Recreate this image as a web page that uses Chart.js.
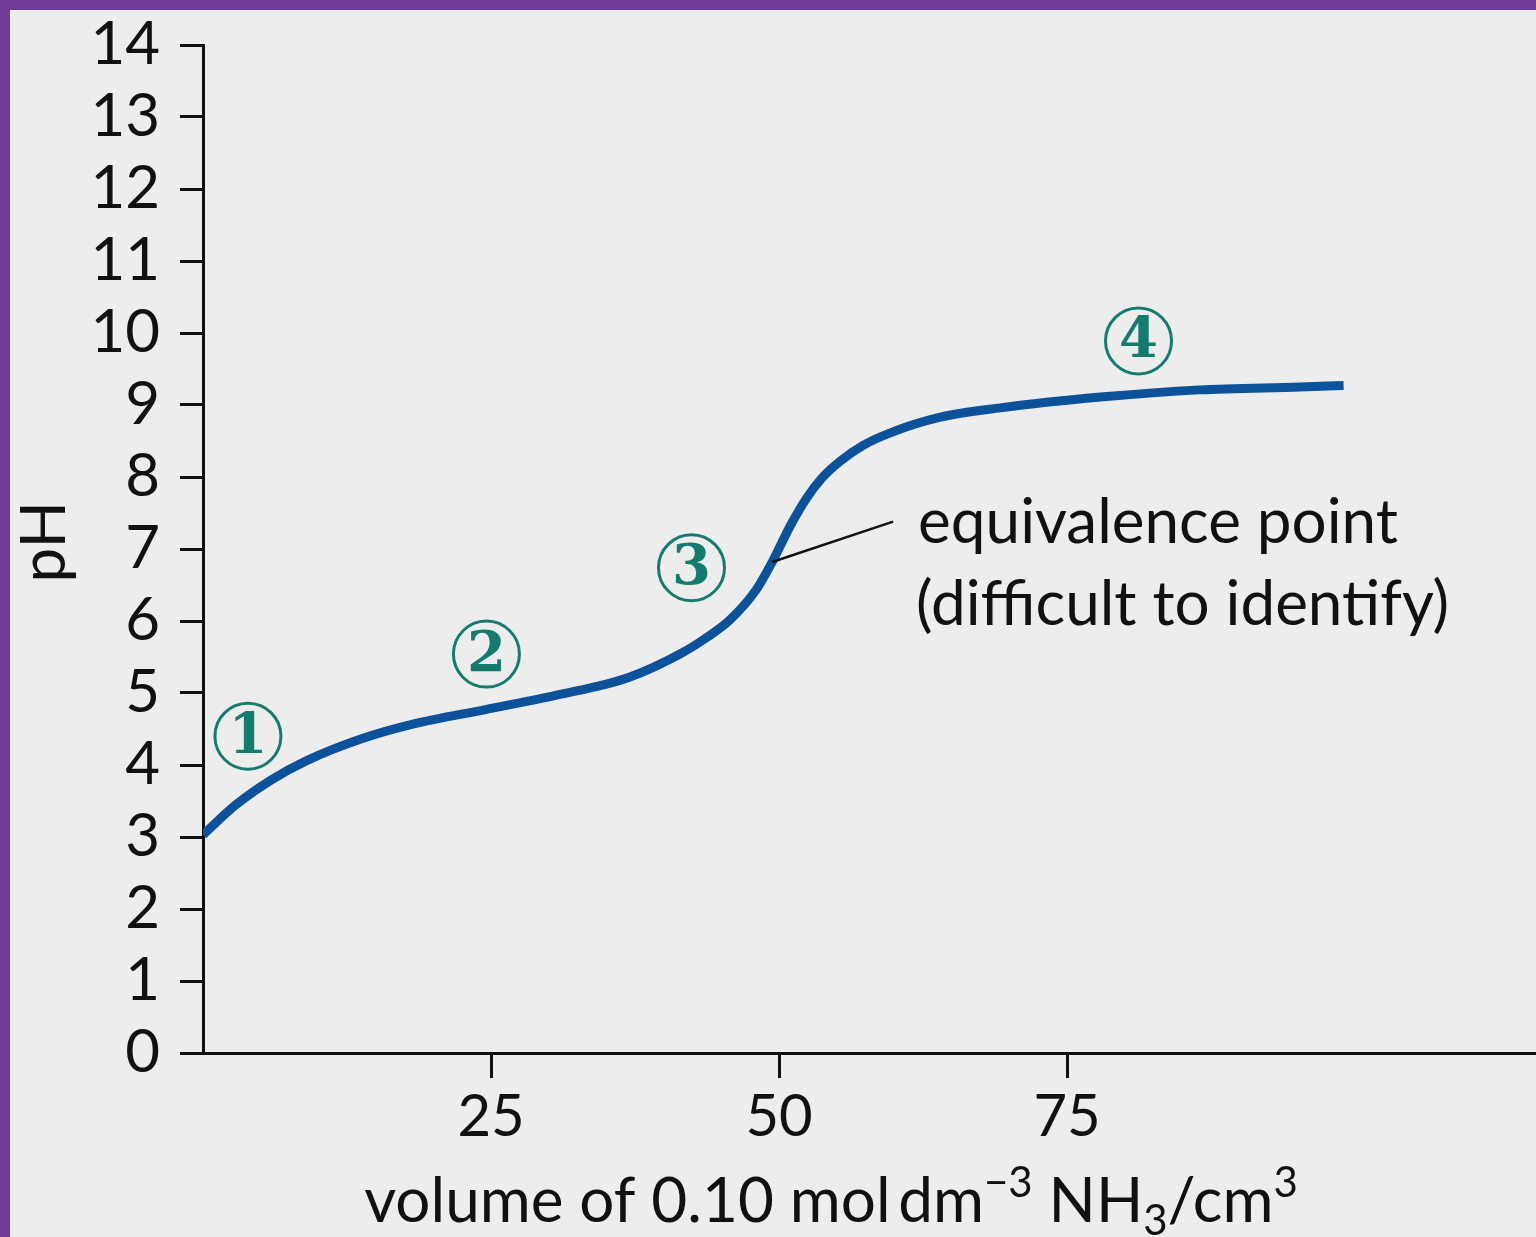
<!DOCTYPE html>
<html>
<head>
<meta charset="utf-8">
<script src="https://cdn.jsdelivr.net/npm/chart.js@4.4.0/dist/chart.umd.min.js"></script>
<style>
  html, body { margin: 0; padding: 0; background: #6f3a98; overflow: hidden; }
  #wrap { position: absolute; left: 10px; top: 10px; width: 1526px; height: 1227px; background: #ededed; }
</style>
</head>
<body>
<div id="wrap"><canvas id="myChart" width="1526" height="1227"></canvas></div>
<script>
// titration curve
var volume = [0, 2.8, 5.9, 9, 13.7, 18.3, 24.5, 30.7, 37, 41.6, 43.8, 45.7, 48, 49.5, 51, 52.4, 53.8, 55.3, 57.3, 59.6, 64, 69.2, 77.9, 86.5, 95.2, 99];
var pH = [3.03, 3.44, 3.79, 4.06, 4.36, 4.57, 4.77, 4.97, 5.22, 5.56, 5.78, 6.01, 6.43, 6.85, 7.33, 7.71, 8.0, 8.22, 8.44, 8.61, 8.83, 8.96, 9.11, 9.21, 9.25, 9.27];
var xTickValues = [25, 50, 75];
var yTickValues = [0, 1, 2, 3, 4, 5, 6, 7, 8, 9, 10, 11, 12, 13, 14];

// circled region numbers
var markerVolume = [3.9, 24.6, 42.4, 81.2];
var markerPH = [4.40, 5.54, 6.74, 9.89];
var markerText = ['1', '2', '3', '4'];

// equivalence point note
var notePoint = [49.4, 6.82];
var noteEnd = [59.9, 7.38];
var noteLines = ['equivalence point', '(difficult to identify)'];

var FONT = 'Lato, "Open Sans", sans-serif';

var extras = {
    id: 'extras',
    afterDraw: function(chart) {
        var ctx = chart.ctx;
        var x = chart.scales.x, y = chart.scales.y;
        ctx.save();

        // circled numbers
        for (var i = 0; i < markerText.length; i++) {
            var cx = x.getPixelForValue(markerVolume[i]);
            var cy = y.getPixelForValue(markerPH[i]);
            ctx.beginPath();
            ctx.arc(cx, cy, 33, 0, Math.PI * 2);
            ctx.strokeStyle = '#137c6e';
            ctx.lineWidth = 3;
            ctx.stroke();
            ctx.fillStyle = '#137c6e';
            ctx.font = 'bold 56px "DejaVu Serif", "Liberation Serif", serif';
            ctx.textAlign = 'center';
            ctx.textBaseline = 'middle';
            ctx.fillText(markerText[i], cx, cy + 2);
        }

        // pointer + note
        var px = x.getPixelForValue(notePoint[0]), py = y.getPixelForValue(notePoint[1]);
        var ex = x.getPixelForValue(noteEnd[0]), ey = y.getPixelForValue(noteEnd[1]);
        ctx.beginPath();
        ctx.moveTo(px, py);
        ctx.lineTo(ex, ey);
        ctx.strokeStyle = '#111';
        ctx.lineWidth = 2.5;
        ctx.stroke();
        ctx.fillStyle = '#111';
        ctx.font = '62px ' + FONT;
        ctx.textAlign = 'left';
        ctx.textBaseline = 'alphabetic';
        ctx.fillText(noteLines[0], ex + 25, ey + 21);
        ctx.fillText(noteLines[1], ex + 23, ey + 103);

        // y title
        ctx.save();
        ctx.translate(35, y.getPixelForValue(7.1));
        ctx.rotate(-Math.PI / 2);
        ctx.textAlign = 'center';
        ctx.textBaseline = 'middle';
        ctx.font = '62px ' + FONT;
        ctx.fillText('pH', 0, 0);
        ctx.restore();

        // x title with super/subscripts
        var parts = [
            ['volume of 0.10 mol\u2009dm', 0, 62],
            ['\u22123', -25, 42],
            [' NH', 0, 62],
            ['3', 13, 42],
            ['/cm', 0, 62],
            ['3', -25, 42]
        ];
        var total = 0;
        parts.forEach(function(p) { ctx.font = p[2] + 'px ' + FONT; total += ctx.measureText(p[0]).width; });
        var tx = 821 - total / 2, ty = 1212;
        ctx.textAlign = 'left';
        ctx.textBaseline = 'alphabetic';
        parts.forEach(function(p) {
            ctx.font = p[2] + 'px ' + FONT;
            ctx.fillText(p[0], tx, ty + p[1]);
            tx += ctx.measureText(p[0]).width;
        });
        ctx.restore();
    }
};

var ctx = document.getElementById('myChart').getContext('2d');
var chart = new Chart(ctx, {
    type: 'line',
    data: {
        datasets: [{
            label: 'pH',
            data: volume.map(function(v, i) { return { x: v, y: pH[i] }; }),
            borderColor: '#0b529a',
            borderWidth: 9,
            borderCapStyle: 'butt',
            borderJoinStyle: 'round',
            pointRadius: 0,
            fill: false,
            cubicInterpolationMode: 'monotone'
        }]
    },
    options: {
        responsive: false,
        animation: false,
        devicePixelRatio: 1,
        layout: { padding: { top: 35, left: 0, right: 0, bottom: 0 } },
        plugins: { legend: { display: false }, tooltip: { enabled: false } },
        scales: {
            x: {
                type: 'linear',
                min: 0,
                max: 115.7,
                afterBuildTicks: function(scale) {
                    scale.ticks = xTickValues.map(function(v) { return { value: v }; });
                },
                afterFit: function(scale) { scale.height = 184; scale.paddingLeft = 0; scale.paddingRight = 0; },
                grid: { display: true, drawOnChartArea: false, drawTicks: true, tickLength: 25, color: '#111', lineWidth: 3 },
                border: { display: true, color: '#111', width: 3 },
                ticks: { color: '#111', font: { family: FONT, size: 58 }, padding: 4, maxRotation: 0, autoSkip: false }
            },
            y: {
                type: 'linear',
                min: 0,
                max: 14,
                afterBuildTicks: function(scale) {
                    scale.ticks = yTickValues.map(function(v) { return { value: v }; });
                },
                afterFit: function(scale) { scale.width = 193; scale.paddingTop = 0; scale.paddingBottom = 0; },
                grid: { display: true, drawOnChartArea: false, drawTicks: true, tickLength: 23, color: '#111', lineWidth: 3 },
                border: { display: true, color: '#111', width: 3 },
                ticks: { color: '#111', font: { family: FONT, size: 60 }, padding: 20, autoSkip: false }
            }
        }
    },
    plugins: [extras]
});
</script>
</body>
</html>
